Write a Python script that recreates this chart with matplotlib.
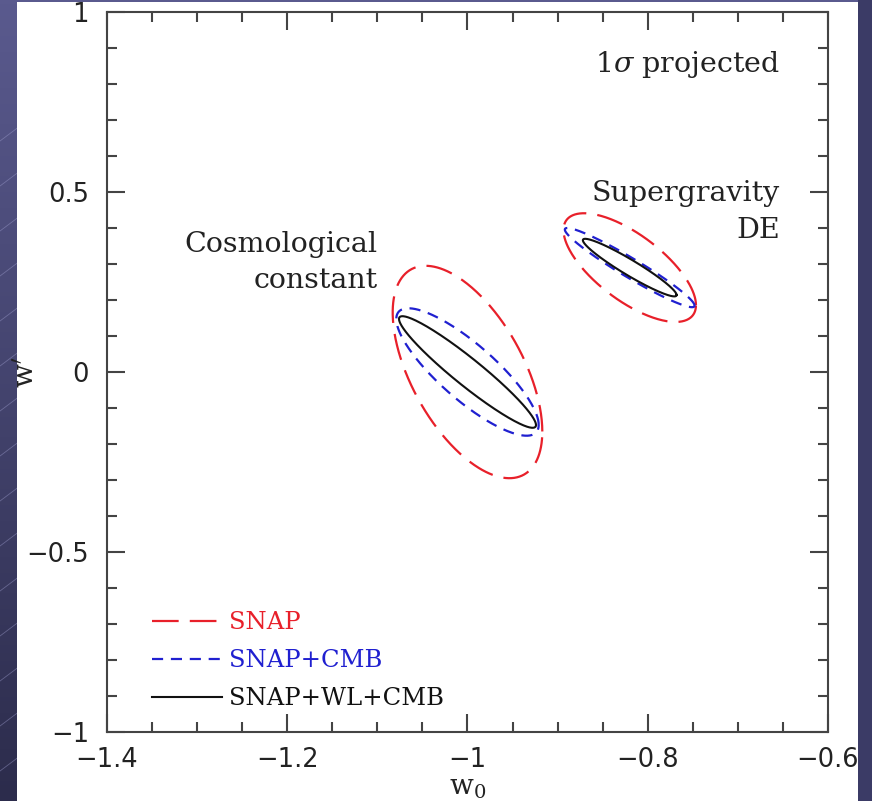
import numpy as np
import matplotlib
matplotlib.use("Agg")
import matplotlib.pyplot as plt
from matplotlib.patches import Rectangle

# ---------------- data ----------------
# each ellipse: centre (w0, w'), projected 1-sigma half extents and correlation
series_names = ["SNAP", "SNAP+CMB", "SNAP+WL+CMB"]
series_colors = ["#e8202a", "#2020d0", "#111111"]

cosmo_center = (-1.0, 0.0)
cosmo_sig_w0 = [0.083, 0.079, 0.076]
cosmo_sig_wp = [0.295, 0.177, 0.155]
cosmo_rho = [-0.56, -0.83, -0.95]

sugra_center = (-0.82, 0.29)
sugra_sig_w0 = [0.0735, 0.072, 0.052]
sugra_sig_wp = [0.151, 0.110, 0.080]
sugra_rho = [-0.69, -0.96, -0.95]

x_major = [-1.4, -1.2, -1.0, -0.8, -0.6]
x_major_labels = ["\u22121.4", "\u22121.2", "\u22121", "\u22120.8", "\u22120.6"]
y_major = [-1.0, -0.5, 0.0, 0.5, 1.0]
y_major_labels = ["\u22121", "\u22120.5", "0", "0.5", "1"]

# ---------------- figure ----------------
W, H = 872, 801
fig = plt.figure(figsize=(W / 100, H / 100), dpi=100)
plt.rcParams["mathtext.fontset"] = "dejavuserif"

# background gradient with faint diagonal stripes
bg = fig.add_axes([0, 0, 1, 1], zorder=-5)
bg.set_axis_off()
t = np.linspace(0, 1, 200)[:, None]
top = np.array([90, 90, 142]) / 255
bot = np.array([44, 44, 76]) / 255
grad = (top[None, None, :] * (1 - t[:, :, None]) + bot[None, None, :] * t[:, :, None])
grad = np.repeat(grad, 2, axis=1)
bg.imshow(grad, extent=[0, W, H, 0], aspect="auto", zorder=0)
for k in range(-20, 30):
    x0 = k * 60 - 400
    bg.plot([x0, x0 + 900], [H, H - 900 * 0.75], color="#a0a0d0", lw=0.6, alpha=0.45, zorder=1)
bg.set_xlim(0, W)
bg.set_ylim(H, 0)
# white panel
bg.add_patch(Rectangle((17, 2), 841, H, facecolor="white", edgecolor="none", zorder=5))

ax = fig.add_axes([107 / W, 1 - 732 / H, (828 - 107) / W, (732 - 12) / H])
ax.set_facecolor("none")
ax.set_xlim(-1.4, -0.6)
ax.set_ylim(-1, 1)

tt = np.linspace(0, 2 * np.pi, 400)


def ellipse(center, sx, sy, rho):
    x = center[0] + sx * np.cos(tt)
    y = center[1] + sy * (rho * np.cos(tt) + np.sqrt(1 - rho ** 2) * np.sin(tt))
    return x, y


styles = [dict(ls=(0, (12, 5)), lw=1.6), dict(ls=(0, (5, 3.5)), lw=1.6), dict(ls="-", lw=1.5)]

handles = []
for i in range(3):
    x, y = ellipse(cosmo_center, cosmo_sig_w0[i], cosmo_sig_wp[i], cosmo_rho[i])
    h, = ax.plot(x, y, color=series_colors[i], **styles[i])
    handles.append(h)
    x, y = ellipse(sugra_center, sugra_sig_w0[i], sugra_sig_wp[i], sugra_rho[i])
    ax.plot(x, y, color=series_colors[i], **styles[i])

# ticks
axis_col = "#444444"
for s in ax.spines.values():
    s.set_color(axis_col)
    s.set_linewidth(1.5)
ax.set_xticks(x_major)
ax.set_xticklabels(x_major_labels)
ax.set_yticks(y_major)
ax.set_yticklabels(y_major_labels)
ax.set_xticks(np.arange(-1.4, -0.6 + 1e-9, 0.05), minor=True)
ax.set_yticks(np.arange(-1.0, 1.0 + 1e-9, 0.1), minor=True)
ax.tick_params(which="both", direction="in", top=True, right=True, color=axis_col, width=1.5)
ax.tick_params(which="major", length=13, labelsize=18.5)
ax.tick_params(which="minor", length=7.5)
ax.tick_params(axis="y", pad=13)
ax.tick_params(axis="x", pad=11)
for lab in ax.get_xticklabels() + ax.get_yticklabels():
    lab.set_fontfamily("DejaVu Sans")
    lab.set_color("#222222")

serif = "DejaVu Serif"
ax.set_xlabel(r"w$_0$", fontfamily=serif, fontsize=20, color="#222222")
ax.set_ylabel(r"w$'$", fontfamily=serif, fontsize=20, color="#222222")
ax.xaxis.set_label_coords(0.5007, -0.058)
ax.yaxis.set_label_coords(-0.094, 0.5)

fs = 20.5
ax.text(-0.653, 0.855, r"1$\sigma$ projected", fontfamily=serif, fontsize=fs,
        ha="right", va="center", color="#222222")
ax.text(-0.653, 0.445, "Supergravity\nDE", fontfamily=serif, fontsize=fs, ha="right",
        va="center", color="#222222", linespacing=1.5)
ax.text(-1.1, 0.304, "Cosmological\nconstant", fontfamily=serif, fontsize=fs, ha="right",
        va="center", color="#222222", linespacing=1.45)

leg = ax.legend(handles, series_names, loc="lower left", bbox_to_anchor=(0.062, 0.03),
                frameon=False, handlelength=2.9, handletextpad=0.3, labelspacing=0.62,
                borderpad=0, borderaxespad=0,
                prop={"family": serif, "size": 17.5})
for txt, c in zip(leg.get_texts(), series_colors):
    txt.set_color(c)

# right dark strip drawn on top (clips the last tick label as in the slide)
strip = Rectangle((858 / W, 0), 1 - 858 / W, 1, transform=fig.transFigure,
                  facecolor="#3b3b66", edgecolor="none", zorder=20)
fig.add_artist(strip)

fig.savefig("out.png", dpi=100)
